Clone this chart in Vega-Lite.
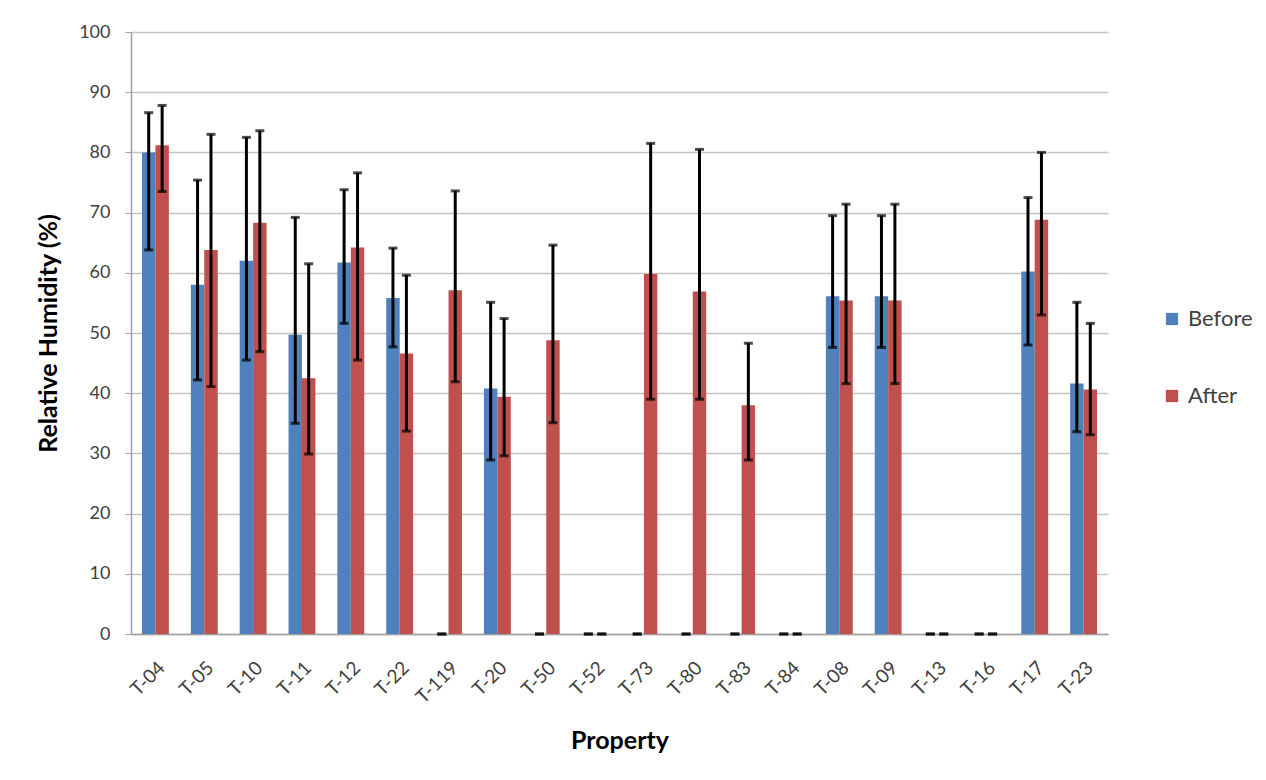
{
  "$schema": "https://vega.github.io/schema/vega-lite/v6.json",
  "width": 977,
  "height": 602,
  "autosize": {"type": "none"},
  "padding": {"left": 131, "top": 32, "right": 158, "bottom": 146},
  "background": "white",
  "config": {
    "font": "Lato",
    "view": {"stroke": null}
  },
  "data": {
    "values": [
      {"property": "T-04", "group": "Before", "value": 80.0, "low": 63.8, "high": 86.6},
      {"property": "T-04", "group": "After", "value": 81.2, "low": 73.5, "high": 87.8},
      {"property": "T-05", "group": "Before", "value": 58.0, "low": 42.2, "high": 75.4},
      {"property": "T-05", "group": "After", "value": 63.8, "low": 41.1, "high": 83.0},
      {"property": "T-10", "group": "Before", "value": 62.0, "low": 45.5, "high": 82.5},
      {"property": "T-10", "group": "After", "value": 68.3, "low": 46.9, "high": 83.6},
      {"property": "T-11", "group": "Before", "value": 49.7, "low": 35.0, "high": 69.2},
      {"property": "T-11", "group": "After", "value": 42.5, "low": 29.9, "high": 61.5},
      {"property": "T-12", "group": "Before", "value": 61.7, "low": 51.6, "high": 73.8},
      {"property": "T-12", "group": "After", "value": 64.2, "low": 45.5, "high": 76.6},
      {"property": "T-22", "group": "Before", "value": 55.8, "low": 47.7, "high": 64.1},
      {"property": "T-22", "group": "After", "value": 46.6, "low": 33.7, "high": 59.6},
      {"property": "T-119", "group": "Before", "value": 0, "low": 0, "high": 0},
      {"property": "T-119", "group": "After", "value": 57.1, "low": 41.9, "high": 73.6},
      {"property": "T-20", "group": "Before", "value": 40.8, "low": 28.9, "high": 55.1},
      {"property": "T-20", "group": "After", "value": 39.4, "low": 29.6, "high": 52.4},
      {"property": "T-50", "group": "Before", "value": 0, "low": 0, "high": 0},
      {"property": "T-50", "group": "After", "value": 48.8, "low": 35.1, "high": 64.6},
      {"property": "T-52", "group": "Before", "value": 0, "low": 0, "high": 0},
      {"property": "T-52", "group": "After", "value": 0, "low": 0, "high": 0},
      {"property": "T-73", "group": "Before", "value": 0, "low": 0, "high": 0},
      {"property": "T-73", "group": "After", "value": 59.8, "low": 39.0, "high": 81.5},
      {"property": "T-80", "group": "Before", "value": 0, "low": 0, "high": 0},
      {"property": "T-80", "group": "After", "value": 56.9, "low": 39.0, "high": 80.5},
      {"property": "T-83", "group": "Before", "value": 0, "low": 0, "high": 0},
      {"property": "T-83", "group": "After", "value": 38.0, "low": 28.9, "high": 48.3},
      {"property": "T-84", "group": "Before", "value": 0, "low": 0, "high": 0},
      {"property": "T-84", "group": "After", "value": 0, "low": 0, "high": 0},
      {"property": "T-08", "group": "Before", "value": 56.1, "low": 47.6, "high": 69.5},
      {"property": "T-08", "group": "After", "value": 55.4, "low": 41.6, "high": 71.4},
      {"property": "T-09", "group": "Before", "value": 56.1, "low": 47.6, "high": 69.5},
      {"property": "T-09", "group": "After", "value": 55.4, "low": 41.6, "high": 71.4},
      {"property": "T-13", "group": "Before", "value": 0, "low": 0, "high": 0},
      {"property": "T-13", "group": "After", "value": 0, "low": 0, "high": 0},
      {"property": "T-16", "group": "Before", "value": 0, "low": 0, "high": 0},
      {"property": "T-16", "group": "After", "value": 0, "low": 0, "high": 0},
      {"property": "T-17", "group": "Before", "value": 60.2, "low": 48.0, "high": 72.5},
      {"property": "T-17", "group": "After", "value": 68.8, "low": 53.0, "high": 80.0},
      {"property": "T-23", "group": "Before", "value": 41.6, "low": 33.6, "high": 55.1},
      {"property": "T-23", "group": "After", "value": 40.6, "low": 33.1, "high": 51.6}
    ]
  },
  "encoding": {
    "x": {
      "field": "property",
      "type": "nominal",
      "sort": null,
      "scale": {"paddingInner": 0.45, "paddingOuter": 0.225},
      "axis": {
        "title": "Property",
        "titleFontSize": 25,
        "titleFontWeight": "bold",
        "titleColor": "#000000",
        "titlePadding": 22,
        "labelAngle": -45,
        "labelFontSize": 19,
        "labelColor": "#404040",
        "labelPadding": 24,
        "ticks": false,
        "domainColor": "#a0a0a0",
        "domainWidth": 1.5,
        "grid": false
      }
    },
    "xOffset": {
      "field": "group",
      "type": "nominal",
      "sort": ["Before", "After"],
      "scale": {"paddingInner": 0, "paddingOuter": 0}
    }
  },
  "layer": [
    {
      "mark": {"type": "bar"},
      "encoding": {
        "y": {
          "field": "value",
          "type": "quantitative",
          "scale": {"domain": [0, 100]},
          "axis": {
            "title": "Relative Humidity (%)",
            "titleFontSize": 25,
            "titleFontWeight": "bold",
            "titleColor": "#000000",
            "titlePadding": 17,
            "values": [0, 10, 20, 30, 40, 50, 60, 70, 80, 90, 100],
            "labelFontSize": 18,
            "labelColor": "#404040",
            "labelPadding": 15,
            "tickSize": 6,
            "tickColor": "#a0a0a0",
            "domainColor": "#a0a0a0",
            "domainWidth": 1.5,
            "gridColor": "#c4c4c4",
            "gridWidth": 1.5
          }
        },
        "color": {
          "field": "group",
          "type": "nominal",
          "scale": {"domain": ["Before", "After"], "range": ["#4F81BD", "#C0504D"]},
          "legend": {
            "title": null,
            "orient": "none",
            "legendX": 1030,
            "legendY": 276,
            "symbolType": "square",
            "symbolSize": 150,
            "symbolStrokeWidth": 0,
            "labelFontSize": 22,
            "labelColor": "#404040",
            "labelOffset": 5,
            "rowPadding": 55
          }
        }
      }
    },
    {
      "mark": {"type": "rule", "color": "#000000", "strokeWidth": 3},
      "encoding": {
        "y": {"field": "low", "type": "quantitative"},
        "y2": {"field": "high"}
      }
    },
    {
      "mark": {"type": "tick", "color": "#000000", "thickness": 3, "size": 9},
      "encoding": {
        "y": {"field": "high", "type": "quantitative"}
      }
    },
    {
      "mark": {"type": "tick", "color": "#000000", "thickness": 3, "size": 9},
      "encoding": {
        "y": {"field": "low", "type": "quantitative"}
      }
    }
  ]
}
